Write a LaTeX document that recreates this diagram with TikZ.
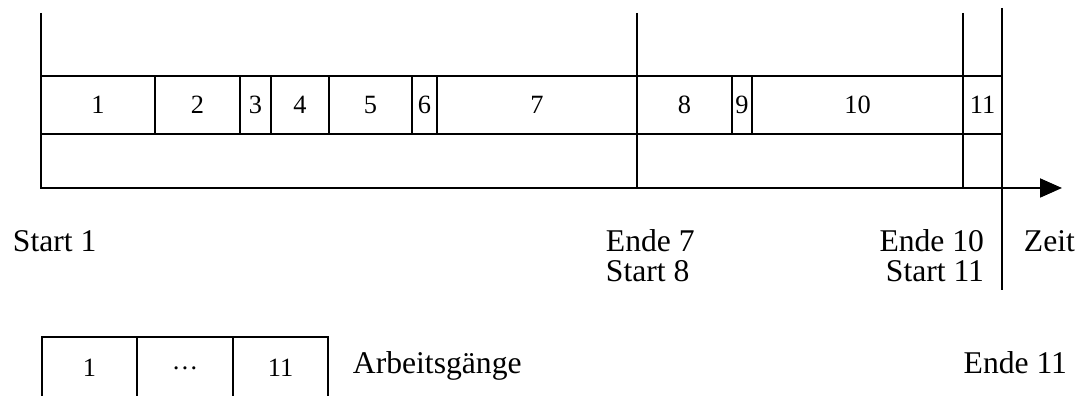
\documentclass[tikz,border=0pt]{standalone}
\usepackage{fontspec}
\setmainfont{Liberation Serif}
\usetikzlibrary{arrows.meta}
\begin{document}
\begin{tikzpicture}[line width=1.1pt,
  zahl/.style={font=\fontsize{15}{17}\selectfont},
  marke/.style={font=\fontsize{18}{21}\selectfont,inner sep=0pt,anchor=base west},
  markeR/.style={marke,anchor=base east}]
\useasboundingbox (0,0) rectangle (21.56,7.92);
% Zeitachse
\coordinate (oben) at (0.82,7.66);
\coordinate (null) at (0.82,4.16);
\coordinate (pfeil) at (21.24,4.16);
\draw[-{Triangle[length=0.44cm,width=0.38cm]}] (oben) -- (null) -- (pfeil);
% Balken mit den Arbeitsgaengen
\draw (0.82,5.24) rectangle (20.04,6.40);
\foreach \a/\b/\n in {0.82/3.10/1,3.10/4.80/2,4.80/5.42/3,5.42/6.58/4,6.58/8.24/5,
  8.24/8.74/6,8.74/12.74/7,12.74/14.64/8,14.64/15.04/9,15.04/19.26/10,19.26/20.04/11}{
  \draw (\b,5.24) -- (\b,6.40);
  \node[zahl] (ag\n) at ({(\a+\b)/2},5.82) {\n};
}
% Zeitpunkte
\draw (12.74,7.66) -- (12.74,4.16);
\draw (19.26,7.66) -- (19.26,4.16);
\draw (20.04,7.76) -- (20.04,2.12);
\node[marke] (s1) at (0.24,2.88) {Start 1};
\node[marke] (e7) at (12.10,2.88) {Ende 7};
\node[marke] (s8) at (12.10,2.28) {Start 8};
\node[markeR] (e10) at (19.70,2.88) {Ende 10};
\node[markeR] (s11) at (19.70,2.28) {Start 11};
\node[marke] (zeit) at (20.46,2.88) {Zeit};
\node[markeR] (e11) at (21.36,0.44) {Ende 11};
% Legende
\draw (0.84,-0.3) rectangle (6.56,1.18);
\draw (2.74,-0.3) -- (2.74,1.18);
\draw (4.66,-0.3) -- (4.66,1.18);
\node[zahl] (l1) at (1.79,0.56) {1};
\node[zahl] (l2) at (3.70,0.56) {\dots};
\node[zahl] (l3) at (5.61,0.56) {11};
\node[marke] (ag) at (7.04,0.44) {Arbeitsgänge};
\end{tikzpicture}
\end{document}
